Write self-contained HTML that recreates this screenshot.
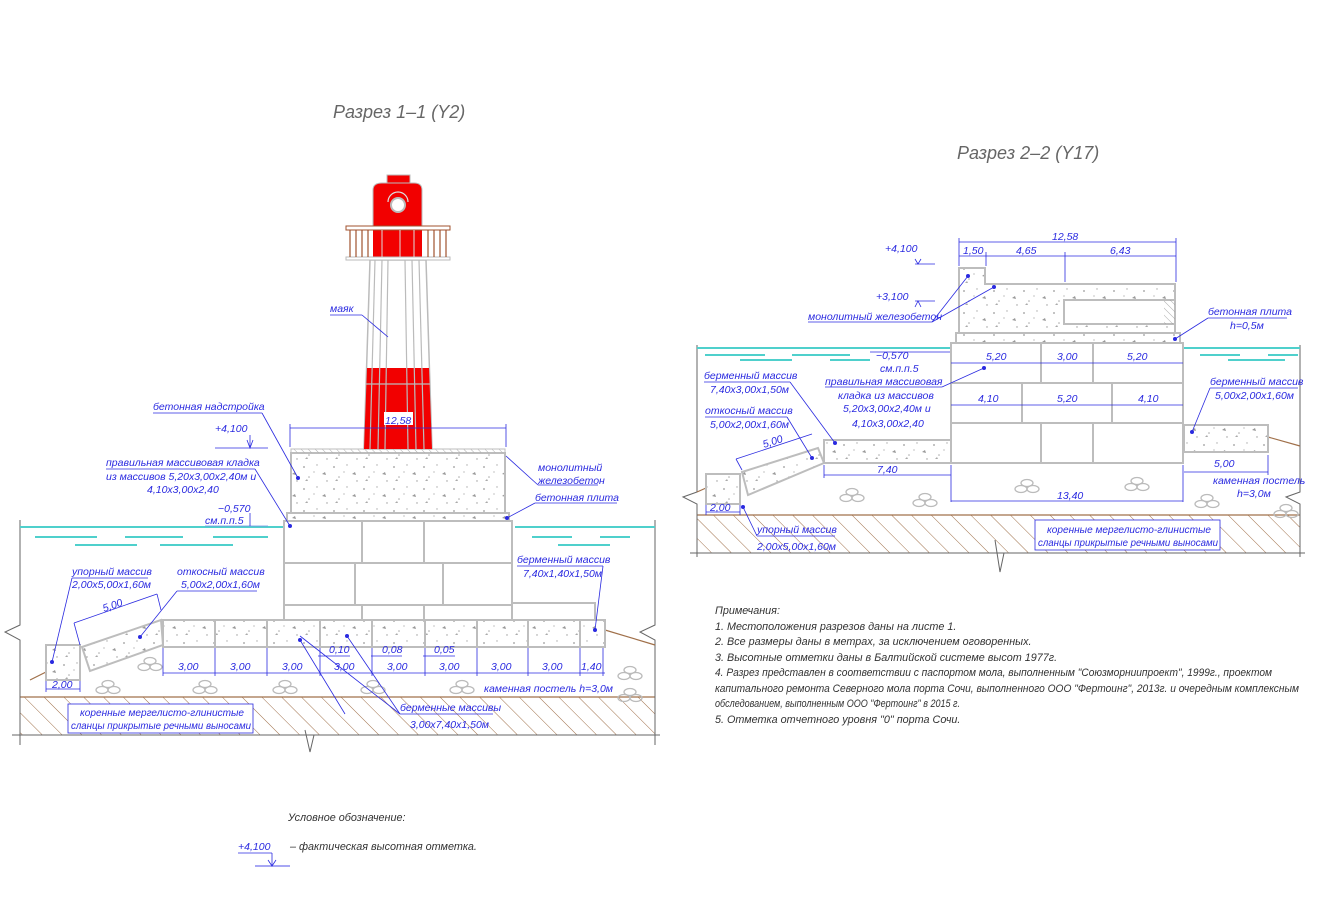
<!DOCTYPE html>
<html><head><meta charset="utf-8"><style>
html,body{margin:0;padding:0;background:#fff;}
svg{display:block;}
text{font-family:"Liberation Sans",sans-serif;font-style:italic;}
.b{fill:#2a2ae0;font-size:10.5px;}
.g{fill:#333;font-size:10.8px;}
.ln{stroke:#bdbdbd;stroke-width:2;fill:none;}
.c{fill:url(#conc);stroke:#bdbdbd;stroke-width:2;}
.bl{stroke:#2a2ae0;stroke-width:0.8;fill:none;}
.w{stroke:#4fd0cc;stroke-width:2;}
.br{stroke:#a0704a;stroke-width:1.2;fill:none;}
</style></head><body>
<svg width="1327" height="900" viewBox="0 0 1327 900" xmlns="http://www.w3.org/2000/svg">
<defs>
<pattern id="conc" width="30" height="22" patternUnits="userSpaceOnUse">
<rect width="30" height="22" fill="#fff"/>
<circle cx="4" cy="5" r="0.9" fill="#999"/><circle cx="17" cy="3" r="0.7" fill="#aaa"/>
<path d="M22 12 l3 -2 l1 3z" fill="#999"/><circle cx="9" cy="15" r="0.8" fill="#aaa"/>
<circle cx="27" cy="19" r="0.7" fill="#999"/><path d="M5 19 l2 -2 l1 2z" fill="#aaa"/>
<circle cx="14" cy="10" r="0.6" fill="#999"/>
</pattern>
<pattern id="hatch" width="14" height="14" patternUnits="userSpaceOnUse" patternTransform="rotate(-45)">
<line x1="0" y1="0" x2="0" y2="14" stroke="#a0704a" stroke-width="1"/>
</pattern>
<pattern id="hatch2" width="5" height="5" patternUnits="userSpaceOnUse" patternTransform="rotate(-45)">
<line x1="0" y1="0" x2="0" y2="5" stroke="#999" stroke-width="0.8"/>
</pattern>
<g id="st"><ellipse cx="0" cy="0" rx="6" ry="3.5" fill="none" stroke="#bbb" stroke-width="1.3"/><ellipse cx="-6" cy="6" rx="6" ry="3.5" fill="none" stroke="#bbb" stroke-width="1.3"/><ellipse cx="6" cy="6" rx="6" ry="3.5" fill="none" stroke="#bbb" stroke-width="1.3"/></g>
</defs>

<text x="333" y="118" style="font-size:18px;fill:#666">Разрез 1–1 (Y2)</text>
<text x="957" y="159" style="font-size:18px;fill:#666">Разрез 2–2 (Y17)</text>

<!-- ========== SECTION 1-1 ========== -->
<rect x="20" y="697" width="635" height="38" fill="url(#hatch)"/>
<line x1="20" y1="697" x2="655" y2="697" class="br"/>
<line x1="12" y1="735" x2="660" y2="735" stroke="#666" stroke-width="1"/>
<polyline points="20,520 20,625 5,632 20,640 20,745" fill="none" stroke="#666" stroke-width="1"/>
<polyline points="655,520 655,625 640,632 655,640 655,745" fill="none" stroke="#666" stroke-width="1"/>
<polyline points="305,730 310,752 314,735" fill="none" stroke="#666" stroke-width="1"/>
<line x1="20" y1="527" x2="285" y2="527" class="w"/>
<line x1="515" y1="527" x2="655" y2="527" class="w"/>
<g class="w" stroke-width="1.5"><line x1="35" y1="537" x2="97" y2="537"/><line x1="125" y1="537" x2="183" y2="537"/><line x1="213" y1="537" x2="268" y2="537"/><line x1="75" y1="545" x2="137" y2="545"/><line x1="160" y1="545" x2="233" y2="545"/><line x1="532" y1="537" x2="572" y2="537"/><line x1="600" y1="537" x2="630" y2="537"/><line x1="558" y1="545" x2="610" y2="545"/></g>
<line x1="30" y1="680" x2="46" y2="672" class="br"/>
<polyline points="605,630 655,645" class="br"/>
<use href="#st" x="150" y="661"/><use href="#st" x="108" y="684"/><use href="#st" x="205" y="684"/><use href="#st" x="285" y="684"/><use href="#st" x="373" y="684"/><use href="#st" x="462" y="684"/><use href="#st" x="630" y="670"/><use href="#st" x="630" y="692"/>

<rect x="284" y="521" width="228" height="99" fill="#fff" stroke="#bdbdbd" stroke-width="2"/>
<g class="ln"><line x1="284" y1="563" x2="512" y2="563"/><line x1="284" y1="605" x2="512" y2="605"/>
<line x1="362" y1="521" x2="362" y2="563"/><line x1="424" y1="521" x2="424" y2="563"/>
<line x1="355" y1="563" x2="355" y2="605"/><line x1="443" y1="563" x2="443" y2="605"/>
<line x1="362" y1="605" x2="362" y2="620"/><line x1="424" y1="605" x2="424" y2="620"/>
<polyline points="512,603 595,603 595,620"/></g>
<rect x="287" y="513" width="222" height="8" class="c"/>
<rect x="291" y="453" width="214" height="60" class="c"/>
<rect x="291" y="449" width="214" height="4" fill="url(#hatch2)" stroke="#bdbdbd" stroke-width="1"/>
<rect x="163" y="620" width="442" height="27" class="c"/>
<g class="ln"><line x1="215" y1="620" x2="215" y2="647"/><line x1="267" y1="620" x2="267" y2="647"/><line x1="320" y1="620" x2="320" y2="647"/><line x1="372" y1="620" x2="372" y2="647"/><line x1="425" y1="620" x2="425" y2="647"/><line x1="477" y1="620" x2="477" y2="647"/><line x1="528" y1="620" x2="528" y2="647"/><line x1="580" y1="620" x2="580" y2="647"/></g>
<polygon points="82,647 161,620 163,645 90,671" class="c"/>
<rect x="46" y="645" width="34" height="35" class="c"/>

<!-- lighthouse -->
<polygon points="370,260 426,260 432,449 364,449" fill="#fff" stroke="#bbb" stroke-width="1.5"/>
<polygon points="367,368 429,368 432,449 364,449" fill="#f20000"/>
<g stroke="#bbb" stroke-width="1.2"><line x1="375" y1="260" x2="370" y2="449"/><line x1="382" y1="260" x2="378" y2="449"/><line x1="388" y1="260" x2="385" y2="449"/><line x1="405" y1="260" x2="408" y2="449"/><line x1="412" y1="260" x2="416" y2="449"/><line x1="419" y1="260" x2="424" y2="449"/><line x1="366" y1="384" x2="430" y2="384"/></g>
<rect x="387" y="175" width="23" height="8" fill="#f20000" stroke="#bbb"/>
<path d="M373,228 L373,190 Q373,183 382,183 L414,183 Q422,183 422,190 L422,228 Z" fill="#f20000" stroke="#bbb"/>
<circle cx="398" cy="205" r="7" fill="#fff" stroke="#bbb" stroke-width="2"/>
<path d="M388,202 A10,10 0 0 1 408,202" fill="none" stroke="#ddd" stroke-width="1.2"/>
<rect x="373" y="228" width="49" height="30" fill="#f20000"/>
<rect x="346" y="226" width="104" height="4" fill="#fff" stroke="#a0522d" stroke-width="1"/>
<rect x="346" y="257" width="104" height="3" fill="#fff" stroke="#bbb" stroke-width="1"/>
<g stroke="#a0522d" stroke-width="1.2"><line x1="350" y1="230" x2="350" y2="257"/><line x1="356" y1="230" x2="356" y2="257"/><line x1="362" y1="230" x2="362" y2="257"/><line x1="368" y1="230" x2="368" y2="257"/><line x1="428" y1="230" x2="428" y2="257"/><line x1="434" y1="230" x2="434" y2="257"/><line x1="440" y1="230" x2="440" y2="257"/><line x1="446" y1="230" x2="446" y2="257"/></g>
<g stroke="#ddd" stroke-width="1"><line x1="382" y1="230" x2="382" y2="257"/><line x1="400" y1="230" x2="400" y2="257"/><line x1="414" y1="230" x2="414" y2="257"/></g>

<g class="bl">
<line x1="290" y1="428" x2="506" y2="428"/><line x1="290" y1="424" x2="290" y2="447"/><line x1="506" y1="424" x2="506" y2="447"/>
<line x1="163" y1="673" x2="605" y2="673"/>
<line x1="163" y1="648" x2="163" y2="676"/><line x1="215" y1="648" x2="215" y2="676"/><line x1="267" y1="648" x2="267" y2="676"/><line x1="320" y1="648" x2="320" y2="676"/><line x1="372" y1="648" x2="372" y2="676"/><line x1="425" y1="648" x2="425" y2="676"/><line x1="477" y1="648" x2="477" y2="676"/><line x1="528" y1="648" x2="528" y2="676"/><line x1="580" y1="648" x2="580" y2="676"/><line x1="603" y1="648" x2="603" y2="676"/>
<line x1="318" y1="656" x2="350" y2="656"/><line x1="371" y1="656" x2="402" y2="656"/><line x1="423" y1="656" x2="455" y2="656"/>
<line x1="46" y1="681" x2="46" y2="692"/><line x1="80" y1="681" x2="80" y2="692"/><line x1="46" y1="689" x2="80" y2="689"/>
<line x1="74" y1="623" x2="157" y2="594"/><line x1="74" y1="623" x2="80" y2="645"/><line x1="157" y1="594" x2="161" y2="610"/>
<line x1="215" y1="448" x2="268" y2="448"/><polyline points="247,440 250,448 253,440"/><line x1="250" y1="435" x2="250" y2="448"/>
<line x1="205" y1="526" x2="268" y2="526" stroke="#6b8fe0"/><line x1="250" y1="513" x2="250" y2="526"/>
<line x1="330" y1="315" x2="362" y2="315"/><line x1="362" y1="315" x2="388" y2="337"/>
<line x1="153" y1="413" x2="262" y2="413"/><line x1="262" y1="413" x2="298" y2="478"/>
<line x1="106" y1="469" x2="255" y2="469"/><line x1="255" y1="469" x2="290" y2="526"/>
<line x1="538" y1="485" x2="598" y2="485"/><line x1="538" y1="485" x2="506" y2="456"/>
<line x1="535" y1="503" x2="617" y2="503"/><line x1="535" y1="503" x2="507" y2="518"/>
<line x1="517" y1="566" x2="603" y2="566"/><line x1="603" y1="566" x2="595" y2="630"/>
<line x1="72" y1="578" x2="148" y2="578"/><line x1="72" y1="578" x2="52" y2="662"/>
<line x1="177" y1="591" x2="257" y2="591"/><line x1="177" y1="591" x2="140" y2="637"/>
<line x1="400" y1="714" x2="493" y2="714"/><line x1="400" y1="714" x2="300" y2="636"/><line x1="345" y1="714" x2="300" y2="640"/><line x1="400" y1="714" x2="347" y2="636"/>
</g>
<g fill="#2a2ae0"><circle cx="298" cy="478" r="2"/><circle cx="290" cy="526" r="2"/><circle cx="507" cy="518" r="2"/><circle cx="595" cy="630" r="2"/><circle cx="52" cy="662" r="2"/><circle cx="140" cy="637" r="2"/><circle cx="300" cy="640" r="2"/><circle cx="347" cy="636" r="2"/></g>
<rect x="68" y="704" width="185" height="29" fill="#fff" stroke="#2a2ae0" stroke-width="0.8"/>
<text x="80" y="716" class="b" textLength="164" lengthAdjust="spacingAndGlyphs">коренные мергелисто-глинистые</text>
<text x="71" y="729" class="b" textLength="180" lengthAdjust="spacingAndGlyphs">сланцы прикрытые речными выносами</text>

<rect x="384" y="412" width="29" height="13" fill="#fff"/>
<text x="385" y="424" class="b">12,58</text>
<text x="330" y="312" class="b">маяк</text>
<text x="153" y="410" class="b">бетонная надстройка</text>
<text x="215" y="432" class="b">+4,100</text>
<text x="106" y="466" class="b">правильная массивовая кладка</text>
<text x="106" y="480" class="b">из массивов 5,20х3,00х2,40м и</text>
<text x="147" y="493" class="b">4,10х3,00х2,40</text>
<text x="218" y="512" class="b">−0,570</text>
<text x="205" y="524" class="b">см.п.п.5</text>
<text x="538" y="471" class="b">монолитный</text>
<text x="538" y="484" class="b">железобетон</text>
<text x="535" y="501" class="b">бетонная плита</text>
<text x="517" y="563" class="b">берменный массив</text>
<text x="523" y="577" class="b">7,40х1,40х1,50м</text>
<text x="72" y="575" class="b">упорный массив</text>
<text x="72" y="588" class="b">2,00х5,00х1,60м</text>
<text x="177" y="575" class="b">откосный массив</text>
<text x="181" y="588" class="b">5,00х2,00х1,60м</text>
<text x="104" y="612" class="b" transform="rotate(-19 104 612)">5,00</text>
<text x="400" y="711" class="b">берменные массивы</text>
<text x="410" y="728" class="b">3,00х7,40х1,50м</text>
<text x="484" y="692" class="b">каменная постель h=3,0м</text>
<g class="b"><text x="178" y="670">3,00</text><text x="230" y="670">3,00</text><text x="282" y="670">3,00</text><text x="334" y="670">3,00</text><text x="387" y="670">3,00</text><text x="439" y="670">3,00</text><text x="491" y="670">3,00</text><text x="542" y="670">3,00</text><text x="581" y="670">1,40</text>
<text x="329" y="653">0,10</text><text x="382" y="653">0,08</text><text x="434" y="653">0,05</text><text x="52" y="688">2,00</text></g>

<!-- ========== SECTION 2-2 ========== -->
<rect x="697" y="515" width="603" height="38" fill="url(#hatch)"/>
<line x1="697" y1="515" x2="1300" y2="515" class="br"/>
<line x1="690" y1="553" x2="1305" y2="553" stroke="#666" stroke-width="1"/>
<polyline points="697,345 697,492 683,497 697,504 697,557" fill="none" stroke="#666" stroke-width="1"/>
<polyline points="1300,345 1300,492 1286,497 1300,504 1300,557" fill="none" stroke="#666" stroke-width="1"/>
<polyline points="995,540 1000,572 1004,553" fill="none" stroke="#666" stroke-width="1"/>
<line x1="697" y1="348" x2="950" y2="348" class="w"/>
<line x1="1183" y1="348" x2="1300" y2="348" class="w"/>
<g class="w" stroke-width="1.5"><line x1="705" y1="355" x2="765" y2="355"/><line x1="792" y1="355" x2="850" y2="355"/><line x1="740" y1="360" x2="792" y2="360"/><line x1="830" y1="360" x2="870" y2="360"/><line x1="1200" y1="355" x2="1240" y2="355"/><line x1="1268" y1="355" x2="1298" y2="355"/><line x1="1228" y1="360" x2="1285" y2="360"/></g>
<line x1="697" y1="492" x2="706" y2="488" class="br"/>
<line x1="1268" y1="437" x2="1300" y2="446" class="br"/>
<use href="#st" x="852" y="492"/><use href="#st" x="925" y="497"/><use href="#st" x="1027" y="483"/><use href="#st" x="1137" y="481"/><use href="#st" x="1207" y="498"/><use href="#st" x="1286" y="508"/>

<rect x="951" y="343" width="232" height="120" fill="#fff" stroke="#bdbdbd" stroke-width="2"/>
<g class="ln"><line x1="951" y1="383" x2="1183" y2="383"/><line x1="951" y1="423" x2="1183" y2="423"/>
<line x1="1041" y1="343" x2="1041" y2="383"/><line x1="1093" y1="343" x2="1093" y2="383"/>
<line x1="1022" y1="383" x2="1022" y2="423"/><line x1="1112" y1="383" x2="1112" y2="423"/>
<line x1="1041" y1="423" x2="1041" y2="463"/><line x1="1093" y1="423" x2="1093" y2="463"/></g>
<rect x="956" y="333" width="224" height="10" class="c"/>
<polygon points="959,268 985,268 985,284 1175,284 1175,333 959,333" class="c"/>
<rect x="1064" y="300" width="111" height="24" fill="#fff" stroke="#bdbdbd" stroke-width="2"/>
<rect x="1164" y="300" width="11" height="24" fill="url(#hatch2)"/>
<rect x="824" y="440" width="127" height="23" class="c"/>
<polygon points="742,472 818,448 824,463 748,495" class="c"/>
<rect x="706" y="474" width="34" height="30" class="c"/>
<rect x="1184" y="425" width="84" height="27" class="c"/>

<g class="bl">
<line x1="959" y1="242" x2="1176" y2="242"/><line x1="959" y1="256" x2="1176" y2="256"/>
<line x1="959" y1="238" x2="959" y2="266"/><line x1="986" y1="252" x2="986" y2="266"/><line x1="1065" y1="252" x2="1065" y2="282"/><line x1="1176" y1="238" x2="1176" y2="282"/>
<line x1="951" y1="363" x2="1183" y2="363"/><line x1="951" y1="405" x2="1183" y2="405"/>
<line x1="824" y1="475" x2="951" y2="475"/><line x1="824" y1="465" x2="824" y2="478"/><line x1="951" y1="465" x2="951" y2="502"/>
<line x1="951" y1="501" x2="1183" y2="501"/><line x1="1183" y1="465" x2="1183" y2="502"/>
<line x1="1184" y1="472" x2="1268" y2="472"/><line x1="1268" y1="455" x2="1268" y2="475"/>
<line x1="706" y1="512" x2="740" y2="512"/><line x1="706" y1="505" x2="706" y2="515"/><line x1="740" y1="505" x2="740" y2="515"/>
<line x1="736" y1="459" x2="812" y2="434"/><line x1="736" y1="459" x2="742" y2="470"/>
<line x1="915" y1="264" x2="935" y2="264"/><polyline points="915,259 918,264 921,259"/>
<line x1="915" y1="301" x2="935" y2="301"/><polyline points="915,307 918,301 921,307"/>
<line x1="870" y1="352" x2="950" y2="352"/>
<line x1="808" y1="322" x2="932" y2="322"/><line x1="932" y1="322" x2="968" y2="276"/><line x1="932" y1="322" x2="994" y2="287"/>
<line x1="825" y1="387" x2="942" y2="387"/><line x1="942" y1="387" x2="984" y2="368"/>
<line x1="704" y1="382" x2="790" y2="382"/><line x1="790" y1="382" x2="835" y2="443"/>
<line x1="705" y1="417" x2="787" y2="417"/><line x1="787" y1="417" x2="812" y2="458"/>
<line x1="1208" y1="318" x2="1287" y2="318"/><line x1="1208" y1="318" x2="1175" y2="339"/>
<line x1="1210" y1="388" x2="1298" y2="388"/><line x1="1210" y1="388" x2="1192" y2="432"/>
<line x1="757" y1="536" x2="835" y2="536"/><line x1="757" y1="536" x2="743" y2="507"/>
</g>
<g fill="#2a2ae0"><circle cx="968" cy="276" r="2"/><circle cx="994" cy="287" r="2"/><circle cx="984" cy="368" r="2"/><circle cx="835" cy="443" r="2"/><circle cx="812" cy="458" r="2"/><circle cx="1175" cy="339" r="2"/><circle cx="1192" cy="432" r="2"/><circle cx="743" cy="507" r="2"/></g>
<rect x="1035" y="520" width="185" height="30" fill="#fff" stroke="#2a2ae0" stroke-width="0.8"/>
<text x="1047" y="533" class="b" textLength="164" lengthAdjust="spacingAndGlyphs">коренные мергелисто-глинистые</text>
<text x="1038" y="546" class="b" textLength="180" lengthAdjust="spacingAndGlyphs">сланцы прикрытые речными выносами</text>
<g class="b">
<text x="1052" y="240">12,58</text><text x="963" y="254">1,50</text><text x="1016" y="254">4,65</text><text x="1110" y="254">6,43</text>
<text x="986" y="360">5,20</text><text x="1057" y="360">3,00</text><text x="1127" y="360">5,20</text>
<text x="978" y="402">4,10</text><text x="1057" y="402">5,20</text><text x="1138" y="402">4,10</text>
<text x="877" y="473">7,40</text><text x="1057" y="499">13,40</text><text x="1214" y="467">5,00</text><text x="710" y="511">2,00</text>
<text x="764" y="448" transform="rotate(-18 764 448)">5,00</text>
<text x="885" y="252">+4,100</text><text x="876" y="300">+3,100</text>
<text x="808" y="320">монолитный железобетон</text>
<text x="876" y="359">−0,570</text><text x="880" y="372">см.п.п.5</text>
<text x="825" y="385">правильная массивовая</text><text x="838" y="399">кладка из массивов</text><text x="843" y="412">5,20х3,00х2,40м и</text><text x="852" y="427">4,10х3,00х2,40</text>
<text x="704" y="379">берменный массив</text><text x="710" y="393">7,40х3,00х1,50м</text>
<text x="705" y="414">откосный массив</text><text x="710" y="428">5,00х2,00х1,60м</text>
<text x="1208" y="315">бетонная плита</text><text x="1230" y="329">h=0,5м</text>
<text x="1210" y="385">берменный массив</text><text x="1215" y="399">5,00х2,00х1,60м</text>
<text x="1213" y="484">каменная постель</text><text x="1237" y="497">h=3,0м</text>
<text x="757" y="533">упорный массив</text><text x="757" y="550">2,00х5,00х1,60м</text>
</g>

<g class="g">
<text x="715" y="614">Примечания:</text>
<text x="715" y="630">1.  Местоположения разрезов даны на листе 1.</text>
<text x="715" y="645">2.  Все размеры даны в метрах, за исключением оговоренных.</text>
<text x="715" y="661">3.  Высотные отметки даны в Балтийской системе высот 1977г.</text>
<text x="715" y="676" textLength="557" lengthAdjust="spacingAndGlyphs">4.  Разрез представлен в соответствии с паспортом мола, выполненным "Союзморниипроект", 1999г., проектом</text>
<text x="715" y="692" textLength="584" lengthAdjust="spacingAndGlyphs">капитального ремонта Северного мола порта Сочи, выполненного ООО "Фертоинг", 2013г. и очередным комплексным</text>
<text x="715" y="707" textLength="245" lengthAdjust="spacingAndGlyphs">обследованием, выполненным ООО "Фертоинг" в 2015 г.</text>
<text x="715" y="723">5.  Отметка отчетного уровня "0" порта Сочи.</text>
<text x="288" y="821">Условное обозначение:</text>
<text x="290" y="850">–  фактическая высотная отметка.</text>
</g>
<text x="238" y="850" class="b">+4,100</text>
<g class="bl"><line x1="238" y1="853" x2="272" y2="853"/><line x1="255" y1="866" x2="290" y2="866" stroke-width="1.5" stroke="#8a8af0"/><line x1="272" y1="853" x2="272" y2="866"/><polyline points="268,860 272,866 276,860"/></g>
</svg>
</body></html>
